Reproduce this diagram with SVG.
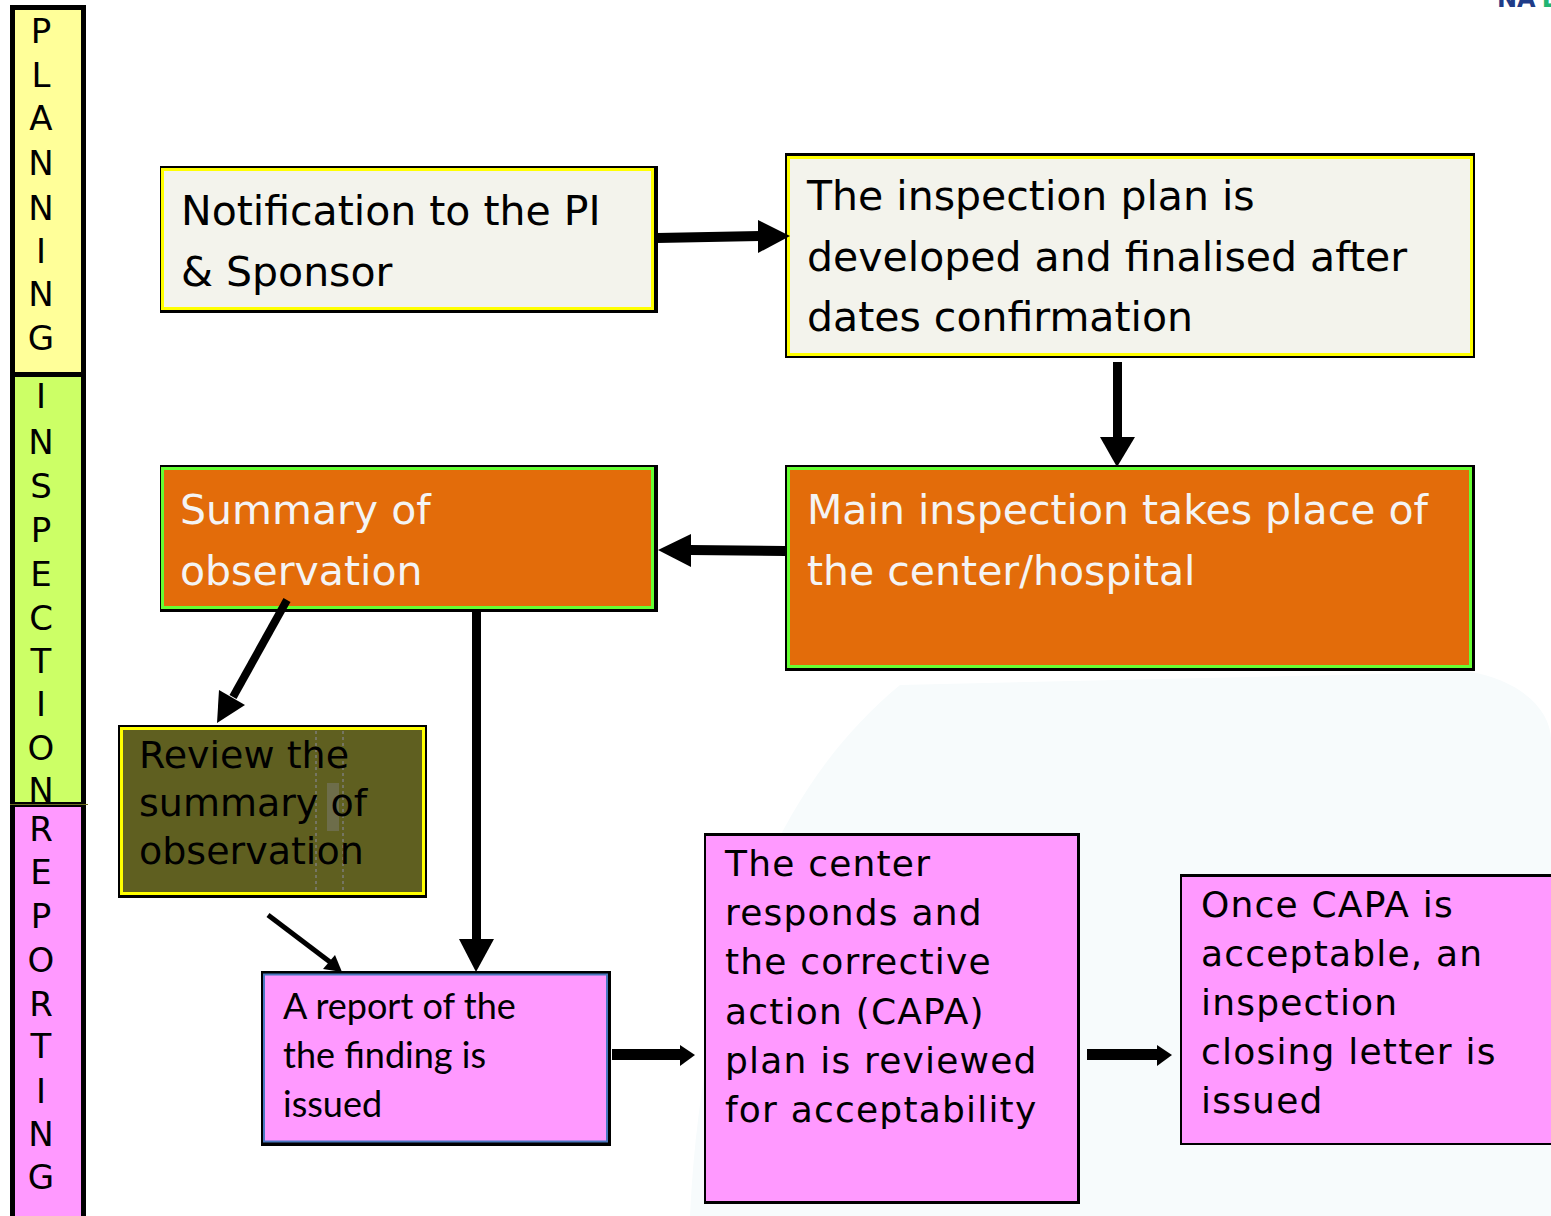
<svg xmlns="http://www.w3.org/2000/svg" width="1551" height="1216" viewBox="0 0 1551 1216">
  <defs>
    <style>
      .lane { font-family: "DejaVu Sans", "Liberation Sans", sans-serif; font-size: 34px; fill: #000; text-anchor: middle; }
      .big { font-family: "DejaVu Sans", "Liberation Sans", sans-serif; font-size: 41px; }
      .mid { font-family: "DejaVu Sans", "Liberation Sans", sans-serif; font-size: 38px; fill: #000; }
      .spaced { font-family: "DejaVu Sans", "Liberation Sans", sans-serif; font-size: 36px; letter-spacing: 1.2px; fill: #000; }
      .cal { font-family: Lato, "Liberation Sans", sans-serif; font-size: 36px; fill: #000; }
      .dark { fill: #000; }
      .light { fill: #f4f4f4; }
      .shadow { fill: #000; }
      .cream { fill: #f3f3ec; stroke: #ffff00; stroke-width: 3; }
      .orange { fill: #e36c0a; stroke: #66ff33; stroke-width: 3; }
      .olive { fill: #5f5f20; stroke: #ffff00; stroke-width: 3; }
      .pink { fill: #ff99ff; }
      .arrow { fill: #000; }
    </style>
  </defs>

  <rect width="1551" height="1216" fill="#ffffff"/>

  <!-- faint backdrop in the lower right -->
  <path d="M690,1216 C700,1000 760,800 900,685 L1470,672 C1520,680 1551,710 1551,740 L1551,1216 Z" fill="#f7fbfc"/>

  <!-- logo fragment -->
  <text x="1497" y="7" font-family="DejaVu Sans, sans-serif" font-size="24" font-weight="bold"><tspan fill="#1f3c88">NA</tspan><tspan fill="#21b573" dx="6">D</tspan></text>

  <!-- phase column -->
  <g id="phases">
    <rect x="10" y="5" width="76" height="1211" fill="#000"/>
    <g id="phase-planning">
      <rect x="15" y="10" width="66" height="362" fill="#ffff99"/>
      <text class="lane"><tspan x="41" y="43">P</tspan><tspan x="41" y="87">L</tspan><tspan x="41" y="130">A</tspan><tspan x="41" y="175">N</tspan><tspan x="41" y="220">N</tspan><tspan x="41" y="263">I</tspan><tspan x="41" y="306">N</tspan><tspan x="41" y="350">G</tspan></text>
    </g>
    <g id="phase-inspection">
      <rect x="15" y="377" width="66" height="425" fill="#ccff66"/>
      <text class="lane"><tspan x="41" y="408">I</tspan><tspan x="41" y="454">N</tspan><tspan x="41" y="498">S</tspan><tspan x="41" y="542">P</tspan><tspan x="41" y="586">E</tspan><tspan x="41" y="630">C</tspan><tspan x="41" y="673">T</tspan><tspan x="41" y="716">I</tspan><tspan x="41" y="760">O</tspan></text>
    </g>
    <g id="phase-reporting">
      <rect x="15" y="807" width="66" height="409" fill="#ff99ff"/>
      <line x1="10" y1="804.5" x2="88" y2="804.5" stroke="#6b6b20" stroke-width="1"/>
      <text class="lane"><tspan x="41" y="841">R</tspan><tspan x="41" y="884">E</tspan><tspan x="41" y="928">P</tspan><tspan x="41" y="972">O</tspan><tspan x="41" y="1016">R</tspan><tspan x="41" y="1058">T</tspan><tspan x="41" y="1103">I</tspan><tspan x="41" y="1146">N</tspan><tspan x="41" y="1189">G</tspan></text>
    </g>
    <!-- last letter of INSPECTION sits over the boundary -->
    <text class="lane" x="41" y="802">N</text>
  </g>

  <!-- process steps -->
  <g id="node-notification">
    <rect class="shadow" x="160" y="166" width="498" height="147"/>
    <rect class="cream" x="162.5" y="169.5" width="490" height="139"/>
    <text class="big dark"><tspan x="181" y="225">Notification to the PI</tspan><tspan x="181" y="286">&amp; Sponsor</tspan></text>
  </g>

  <g id="node-plan">
    <rect class="shadow" x="785" y="153" width="690" height="205"/>
    <rect class="cream" x="788.5" y="157.5" width="683" height="197"/>
    <text class="big dark"><tspan x="807" y="210">The inspection plan is</tspan><tspan x="807" y="271">developed and finalised after</tspan><tspan x="807" y="331">dates confirmation</tspan></text>
  </g>

  <g id="node-main-inspection">
    <rect class="shadow" x="785" y="465" width="690" height="206"/>
    <rect class="orange" x="788.5" y="468.5" width="682" height="198"/>
    <text class="big light"><tspan x="807" y="524">Main inspection takes place of</tspan><tspan x="807" y="585">the center/hospital</tspan></text>
  </g>

  <g id="node-summary">
    <rect class="shadow" x="160" y="465" width="498" height="147"/>
    <rect class="orange" x="162.5" y="468.5" width="490" height="139"/>
    <text class="big light"><tspan x="180" y="524">Summary of</tspan><tspan x="180" y="585">observation</tspan></text>
  </g>

  <g id="node-review">
    <rect class="shadow" x="118" y="725" width="309" height="173"/>
    <rect class="olive" x="121.5" y="728.5" width="302" height="165"/>
    <line x1="316" y1="731" x2="316" y2="892" stroke="#7d7d78" stroke-width="1.5" stroke-dasharray="3 3"/>
    <line x1="343" y1="731" x2="343" y2="892" stroke="#7d7d78" stroke-width="1.5" stroke-dasharray="3 3"/>
    <rect x="327" y="783" width="12" height="48" fill="#767668" opacity="0.6"/>
    <text class="mid"><tspan x="139" y="768">Review the</tspan><tspan x="139" y="816">summary of</tspan><tspan x="139" y="864">observation</tspan></text>
  </g>

  <g id="node-report">
    <rect class="shadow" x="261" y="971" width="350" height="175"/>
    <rect class="pink" x="264" y="974.5" width="343" height="167" stroke="#4a78c0" stroke-width="2"/>
    <text class="cal"><tspan x="283" y="1019">A report of the</tspan><tspan x="283" y="1068">the finding is</tspan><tspan x="283" y="1117">issued</tspan></text>
  </g>

  <g id="node-capa">
    <rect class="shadow" x="704" y="833" width="376" height="371"/>
    <rect class="pink" x="706" y="836" width="371" height="365"/>
    <text class="spaced"><tspan x="725" y="876">The center</tspan><tspan x="725" y="925">responds and</tspan><tspan x="725" y="974">the corrective</tspan><tspan x="725" y="1024">action (CAPA)</tspan><tspan x="725" y="1073">plan is reviewed</tspan><tspan x="725" y="1122">for acceptability</tspan></text>
  </g>

  <g id="node-closing">
    <rect class="shadow" x="1180" y="874" width="375" height="271"/>
    <rect class="pink" x="1182" y="877" width="373" height="266"/>
    <text class="spaced"><tspan x="1201" y="917">Once CAPA is</tspan><tspan x="1201" y="966">acceptable, an</tspan><tspan x="1201" y="1015">inspection</tspan><tspan x="1201" y="1064">closing letter is</tspan><tspan x="1201" y="1113">issued</tspan></text>
  </g>

  <!-- connectors -->
  <g id="connectors">
    <!-- notification to plan -->
    <polygon class="arrow" points="657,233 760,231 760,241 657,243"/>
    <polygon class="arrow" points="758,220 790,236 758,253"/>
    <!-- plan to main inspection -->
    <rect class="arrow" x="1113" y="362" width="9" height="76"/>
    <polygon class="arrow" points="1100,437 1135,437 1117,467"/>
    <!-- main inspection to summary -->
    <polygon class="arrow" points="785,546 690,545 690,555 785,556"/>
    <polygon class="arrow" points="691,534 658,550 691,567"/>
    <!-- summary to review -->
    <line x1="287" y1="600" x2="233" y2="697" stroke="#000" stroke-width="8"/>
    <polygon class="arrow" points="245,705 217,723 219,690"/>
    <!-- summary to report -->
    <rect class="arrow" x="472" y="611" width="9" height="330"/>
    <polygon class="arrow" points="459,939 494,939 476,972"/>
    <!-- review to report -->
    <line x1="268" y1="915" x2="330" y2="962" stroke="#000" stroke-width="5"/>
    <polygon class="arrow" points="323,969 342,972 335,955"/>
    <!-- report to CAPA review -->
    <rect class="arrow" x="612" y="1049" width="70" height="11"/>
    <polygon class="arrow" points="680,1045 695,1055 680,1066"/>
    <!-- CAPA review to closing letter -->
    <rect class="arrow" x="1087" y="1049" width="72" height="11"/>
    <polygon class="arrow" points="1157,1045 1172,1055 1157,1066"/>
  </g>
</svg>
